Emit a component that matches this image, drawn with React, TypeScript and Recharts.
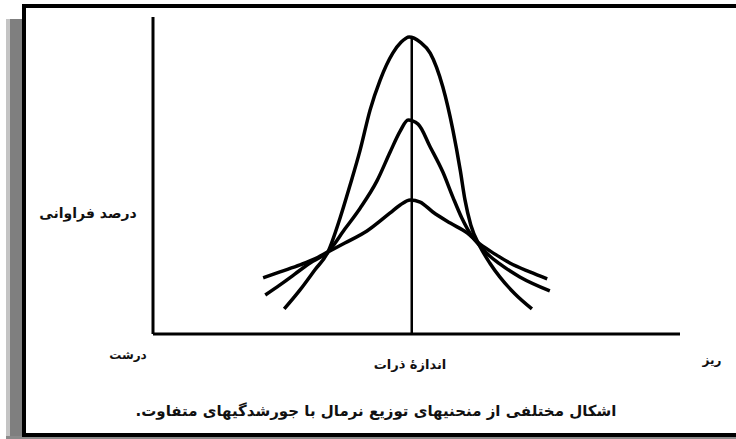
import React from "react";
import { LineChart, Line, XAxis, YAxis, ReferenceLine } from "recharts";

// x = particle size (coarse -> fine), y = frequency percent, both on a 0-100 scale
const tallCurve = [
    { x: 24.9, y: 7.9 }, { x: 27.9, y: 13.9 }, { x: 30.7, y: 20.2 }, { x: 33.2, y: 25.9 },
    { x: 35.5, y: 36.6 }, { x: 37.4, y: 47.0 }, { x: 39.3, y: 58.0 }, { x: 41.2, y: 70.7 },
    { x: 43.1, y: 80.1 }, { x: 45.5, y: 88.6 }, { x: 47.1, y: 92.1 }, { x: 48.6, y: 93.7 },
    { x: 50.7, y: 92.1 }, { x: 52.6, y: 88.6 }, { x: 55.0, y: 77.9 }, { x: 56.9, y: 64.4 },
    { x: 58.3, y: 51.7 }, { x: 59.2, y: 42.3 }, { x: 60.3, y: 34.4 }, { x: 62.0, y: 27.8 },
    { x: 63.9, y: 22.4 }, { x: 65.8, y: 18.0 }, { x: 68.7, y: 12.6 }, { x: 71.9, y: 7.9 },
];

const midCurve = [
    { x: 21.3, y: 12.3 }, { x: 24.1, y: 15.5 }, { x: 26.9, y: 18.9 }, { x: 29.8, y: 22.4 },
    { x: 33.2, y: 25.9 }, { x: 36.4, y: 33.1 }, { x: 39.3, y: 39.7 }, { x: 42.5, y: 48.3 },
    { x: 45.0, y: 57.4 }, { x: 46.9, y: 64.0 }, { x: 48.4, y: 67.5 }, { x: 50.3, y: 66.2 },
    { x: 52.6, y: 59.0 }, { x: 55.0, y: 51.1 }, { x: 56.9, y: 43.2 }, { x: 58.6, y: 36.6 },
    { x: 60.5, y: 30.9 }, { x: 62.0, y: 27.8 }, { x: 63.9, y: 24.6 }, { x: 65.8, y: 22.1 },
    { x: 69.6, y: 18.0 }, { x: 75.3, y: 13.6 },
];

const flatCurve = [
    { x: 20.9, y: 17.7 }, { x: 24.1, y: 19.6 }, { x: 27.9, y: 21.8 }, { x: 30.7, y: 23.7 },
    { x: 33.2, y: 25.9 }, { x: 36.4, y: 28.7 }, { x: 40.6, y: 32.5 }, { x: 45.0, y: 38.2 },
    { x: 46.9, y: 40.7 }, { x: 48.8, y: 42.3 }, { x: 50.7, y: 41.6 }, { x: 53.1, y: 38.5 },
    { x: 56.4, y: 35.0 }, { x: 59.6, y: 31.9 }, { x: 62.0, y: 28.4 }, { x: 64.9, y: 25.2 },
    { x: 67.7, y: 22.4 }, { x: 71.5, y: 19.6 }, { x: 74.8, y: 17.4 },
];

const meanX = 49.1;
const meanTop = 94;

const yLabel = "درصد فراوانی";
const xLabel = "اندازهٔ ذرات";
const coarseLabel = "درشت";
const fineLabel = "ریز";
const caption = "اشکال مختلفی از منحنیهای توزیع نرمال با جورشدگیهای متفاوت.";

const textFont = "'DejaVu Sans', sans-serif";

function Text({ left, top, size, children }: { left: number; top: number; size: number; children: React.ReactNode }) {
    return (
        <div
            style={{
                position: "absolute",
                left,
                top,
                transform: "translate(-50%, -50%)",
                fontFamily: textFont,
                fontSize: size,
                fontWeight: "bold",
                color: "#111",
                direction: "rtl",
                whiteSpace: "nowrap",
                lineHeight: 1,
            }}
        >
            {children}
        </div>
    );
}

export default function App() {
    return (
        <div style={{ position: "absolute", left: 0, top: 0, width: 736, height: 439, overflow: "hidden", background: "#fff" }}>
            {/* shadow of the frame */}
            <div style={{ position: "absolute", left: 6, top: 19, width: 4, height: 420, background: "#c4c4c4" }} />
            <div style={{ position: "absolute", left: 10, top: 19, width: 14, height: 420, background: "#7f7f7f" }} />
            <div style={{ position: "absolute", left: 6, top: 436, width: 740, height: 3, background: "#8a8a8a" }} />
            {/* frame */}
            <div
                style={{
                    position: "absolute",
                    left: 22,
                    top: 4,
                    width: 730,
                    height: 425,
                    border: "4px solid #000",
                    background: "#fff",
                }}
            />
            <div style={{ position: "absolute", left: 0, top: 0 }}>
                <LineChart width={736} height={439} margin={{ top: 17, right: 56, bottom: 100, left: 148 }}>
                    <XAxis
                        type="number"
                        dataKey="x"
                        domain={[0, 100]}
                        height={5}
                        tick={false}
                        tickLine={false}
                        axisLine={{ stroke: "#000", strokeWidth: 3 }}
                        allowDataOverflow
                    />
                    <YAxis
                        type="number"
                        domain={[0, 100]}
                        width={5}
                        tick={false}
                        tickLine={false}
                        axisLine={{ stroke: "#000", strokeWidth: 3 }}
                    />
                    <ReferenceLine
                        segment={[{ x: meanX, y: 0 }, { x: meanX, y: meanTop }]}
                        stroke="#000"
                        strokeWidth={2.5}
                    />
                    <Line data={tallCurve} dataKey="y" type="monotone" stroke="#000" strokeWidth={3.5} dot={false} isAnimationActive={false} />
                    <Line data={midCurve} dataKey="y" type="monotone" stroke="#000" strokeWidth={3.5} dot={false} isAnimationActive={false} />
                    <Line data={flatCurve} dataKey="y" type="monotone" stroke="#000" strokeWidth={3.5} dot={false} isAnimationActive={false} />
                </LineChart>
            </div>
            <Text left={88} top={213} size={14}>{yLabel}</Text>
            <Text left={128} top={355} size={12}>{coarseLabel}</Text>
            <Text left={712} top={360} size={12}>{fineLabel}</Text>
            <Text left={410} top={364} size={13}>{xLabel}</Text>
            <Text left={376} top={411} size={15}>{caption}</Text>
        </div>
    );
}
